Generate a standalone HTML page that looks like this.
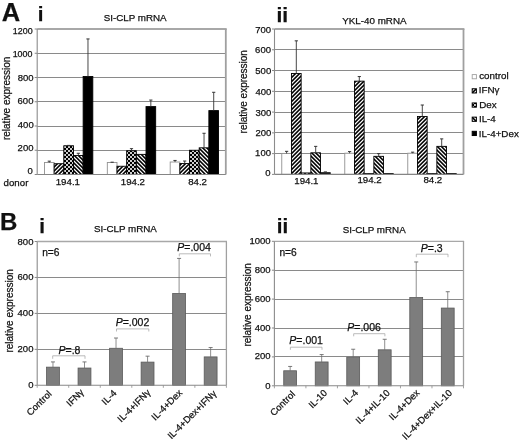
<!DOCTYPE html>
<html><head><meta charset="utf-8"><style>
html,body{margin:0;padding:0;background:#fff;}
svg{display:block;filter:grayscale(1) blur(0.3px);}
text{font-family:"Liberation Sans", sans-serif;fill:#111;stroke:#111;stroke-width:0.25px;}
</style></head><body>
<svg width="520" height="442" viewBox="0 0 520 442">
<defs>
<pattern id="pfwd" patternUnits="userSpaceOnUse" x="0" y="0" width="4" height="4"><rect width="4" height="4" fill="#fff"/><path d="M0 0H2.2L0 2.2Z M4 0V2.2L2.2 4H0Z" fill="#000"/></pattern>
<pattern id="pbck" patternUnits="userSpaceOnUse" x="0" y="0" width="4" height="4"><rect width="4" height="4" fill="#fff"/><path d="M4 0H1.8L4 2.2Z M0 0V2.2L1.8 4H4Z" fill="#000"/></pattern>
<pattern id="pchk" patternUnits="userSpaceOnUse" x="0" y="0" width="4" height="4"><rect width="4" height="4" fill="#000"/><rect x="2.1" y="0.1" width="1.8" height="1.8" fill="#fff"/><rect x="0.1" y="2.1" width="1.8" height="1.8" fill="#fff"/></pattern>
</defs>
<rect width="520" height="442" fill="#fff"/>
<line x1="37.2" y1="150.5" x2="225.8" y2="150.5" stroke="#8a8a8a" stroke-width="1.2"/>
<line x1="37.2" y1="126.5" x2="225.8" y2="126.5" stroke="#8a8a8a" stroke-width="1.2"/>
<line x1="37.2" y1="101.5" x2="225.8" y2="101.5" stroke="#8a8a8a" stroke-width="1.2"/>
<line x1="37.2" y1="77.5" x2="225.8" y2="77.5" stroke="#8a8a8a" stroke-width="1.2"/>
<line x1="37.2" y1="53.5" x2="225.8" y2="53.5" stroke="#8a8a8a" stroke-width="1.2"/>
<line x1="37.2" y1="29" x2="226.7" y2="29" stroke="#a8a8a8" stroke-width="1.8"/>
<line x1="225.8" y1="29" x2="225.8" y2="174.5" stroke="#a0a0a0" stroke-width="1.8"/>
<line x1="34.7" y1="174.5" x2="37.2" y2="174.5" stroke="#888" stroke-width="1"/>
<line x1="34.7" y1="150.25" x2="37.2" y2="150.25" stroke="#888" stroke-width="1"/>
<line x1="34.7" y1="126" x2="37.2" y2="126" stroke="#888" stroke-width="1"/>
<line x1="34.7" y1="101.75" x2="37.2" y2="101.75" stroke="#888" stroke-width="1"/>
<line x1="34.7" y1="77.5" x2="37.2" y2="77.5" stroke="#888" stroke-width="1"/>
<line x1="34.7" y1="53.25" x2="37.2" y2="53.25" stroke="#888" stroke-width="1"/>
<line x1="34.7" y1="29" x2="37.2" y2="29" stroke="#888" stroke-width="1"/>
<rect x="44.45" y="162.5" width="9.67" height="12" fill="#fff" stroke="#909090" stroke-width="0.9"/>
<line x1="49.29" y1="162.5" x2="49.29" y2="161.16" stroke="#333" stroke-width="0.9"/>
<line x1="47.69" y1="161.16" x2="50.89" y2="161.16" stroke="#333" stroke-width="1"/>
<rect x="54.13" y="163.71" width="9.67" height="10.79" fill="url(#pfwd)" stroke="#000" stroke-width="0.9"/>
<rect x="63.8" y="145.76" width="9.67" height="28.74" fill="url(#pchk)" stroke="#000" stroke-width="0.9"/>
<line x1="68.63" y1="145.76" x2="68.63" y2="145.4" stroke="#333" stroke-width="0.9"/>
<line x1="67.03" y1="145.4" x2="70.23" y2="145.4" stroke="#333" stroke-width="1"/>
<rect x="73.47" y="155.46" width="9.67" height="19.04" fill="url(#pbck)" stroke="#000" stroke-width="0.9"/>
<line x1="78.31" y1="155.46" x2="78.31" y2="153.28" stroke="#333" stroke-width="0.9"/>
<line x1="76.71" y1="153.28" x2="79.91" y2="153.28" stroke="#333" stroke-width="1"/>
<rect x="83.14" y="76.53" width="9.67" height="97.97" fill="#000" stroke="#000" stroke-width="0.9"/>
<line x1="87.98" y1="76.53" x2="87.98" y2="38.94" stroke="#333" stroke-width="0.9"/>
<line x1="86.38" y1="38.94" x2="89.58" y2="38.94" stroke="#333" stroke-width="1"/>
<rect x="107.32" y="162.5" width="9.67" height="12" fill="#fff" stroke="#909090" stroke-width="0.9"/>
<line x1="112.16" y1="162.5" x2="112.16" y2="162.19" stroke="#333" stroke-width="0.9"/>
<line x1="110.56" y1="162.19" x2="113.76" y2="162.19" stroke="#333" stroke-width="1"/>
<rect x="116.99" y="166.25" width="9.67" height="8.25" fill="url(#pfwd)" stroke="#000" stroke-width="0.9"/>
<rect x="126.66" y="150.74" width="9.67" height="23.76" fill="url(#pchk)" stroke="#000" stroke-width="0.9"/>
<line x1="131.5" y1="150.74" x2="131.5" y2="148.67" stroke="#333" stroke-width="0.9"/>
<line x1="129.9" y1="148.67" x2="133.1" y2="148.67" stroke="#333" stroke-width="1"/>
<rect x="136.34" y="154.37" width="9.67" height="20.13" fill="url(#pbck)" stroke="#000" stroke-width="0.9"/>
<rect x="146.01" y="106.6" width="9.67" height="67.9" fill="#000" stroke="#000" stroke-width="0.9"/>
<line x1="150.84" y1="106.6" x2="150.84" y2="100.05" stroke="#333" stroke-width="0.9"/>
<line x1="149.24" y1="100.05" x2="152.44" y2="100.05" stroke="#333" stroke-width="1"/>
<rect x="170.19" y="162.01" width="9.67" height="12.49" fill="#fff" stroke="#909090" stroke-width="0.9"/>
<line x1="175.02" y1="162.01" x2="175.02" y2="160.44" stroke="#333" stroke-width="0.9"/>
<line x1="173.42" y1="160.44" x2="176.62" y2="160.44" stroke="#333" stroke-width="1"/>
<rect x="179.86" y="163.47" width="9.67" height="11.03" fill="url(#pfwd)" stroke="#000" stroke-width="0.9"/>
<line x1="184.69" y1="163.47" x2="184.69" y2="161.04" stroke="#333" stroke-width="0.9"/>
<line x1="183.09" y1="161.04" x2="186.29" y2="161.04" stroke="#333" stroke-width="1"/>
<rect x="189.53" y="150.25" width="9.67" height="24.25" fill="url(#pchk)" stroke="#000" stroke-width="0.9"/>
<rect x="199.2" y="147.82" width="9.67" height="26.68" fill="url(#pbck)" stroke="#000" stroke-width="0.9"/>
<line x1="204.04" y1="147.82" x2="204.04" y2="133.28" stroke="#333" stroke-width="0.9"/>
<line x1="202.44" y1="133.28" x2="205.64" y2="133.28" stroke="#333" stroke-width="1"/>
<rect x="208.87" y="110.6" width="9.67" height="63.9" fill="#000" stroke="#000" stroke-width="0.9"/>
<line x1="213.71" y1="110.6" x2="213.71" y2="92.29" stroke="#333" stroke-width="0.9"/>
<line x1="212.11" y1="92.29" x2="215.31" y2="92.29" stroke="#333" stroke-width="1"/>
<line x1="37.2" y1="29" x2="37.2" y2="174.5" stroke="#8c8c8c" stroke-width="1.1"/>
<line x1="37.2" y1="174.5" x2="225.8" y2="174.5" stroke="#858585" stroke-width="1.1"/>
<line x1="274.5" y1="153.5" x2="463.5" y2="153.5" stroke="#8a8a8a" stroke-width="1.2"/>
<line x1="274.5" y1="132.5" x2="463.5" y2="132.5" stroke="#8a8a8a" stroke-width="1.2"/>
<line x1="274.5" y1="112.5" x2="463.5" y2="112.5" stroke="#8a8a8a" stroke-width="1.2"/>
<line x1="274.5" y1="91.5" x2="463.5" y2="91.5" stroke="#8a8a8a" stroke-width="1.2"/>
<line x1="274.5" y1="70.5" x2="463.5" y2="70.5" stroke="#8a8a8a" stroke-width="1.2"/>
<line x1="274.5" y1="49.5" x2="463.5" y2="49.5" stroke="#8a8a8a" stroke-width="1.2"/>
<line x1="274.5" y1="29" x2="464.4" y2="29" stroke="#a8a8a8" stroke-width="1.8"/>
<line x1="463.5" y1="29" x2="463.5" y2="174.4" stroke="#a0a0a0" stroke-width="1.8"/>
<line x1="272" y1="174.4" x2="274.5" y2="174.4" stroke="#888" stroke-width="1"/>
<line x1="272" y1="153.63" x2="274.5" y2="153.63" stroke="#888" stroke-width="1"/>
<line x1="272" y1="132.86" x2="274.5" y2="132.86" stroke="#888" stroke-width="1"/>
<line x1="272" y1="112.09" x2="274.5" y2="112.09" stroke="#888" stroke-width="1"/>
<line x1="272" y1="91.31" x2="274.5" y2="91.31" stroke="#888" stroke-width="1"/>
<line x1="272" y1="70.54" x2="274.5" y2="70.54" stroke="#888" stroke-width="1"/>
<line x1="272" y1="49.77" x2="274.5" y2="49.77" stroke="#888" stroke-width="1"/>
<line x1="272" y1="29" x2="274.5" y2="29" stroke="#888" stroke-width="1"/>
<rect x="281.77" y="153.42" width="9.69" height="20.98" fill="#fff" stroke="#909090" stroke-width="0.9"/>
<line x1="286.62" y1="153.42" x2="286.62" y2="151.34" stroke="#333" stroke-width="0.9"/>
<line x1="285.02" y1="151.34" x2="288.22" y2="151.34" stroke="#333" stroke-width="1"/>
<rect x="291.46" y="73.45" width="9.69" height="100.95" fill="url(#pfwd)" stroke="#000" stroke-width="0.9"/>
<line x1="296.31" y1="73.45" x2="296.31" y2="40.84" stroke="#333" stroke-width="0.9"/>
<line x1="294.71" y1="40.84" x2="297.91" y2="40.84" stroke="#333" stroke-width="1"/>
<rect x="301.15" y="172.95" width="9.69" height="1.45" fill="url(#pchk)" stroke="#000" stroke-width="0.9"/>
<rect x="310.85" y="152.8" width="9.69" height="21.6" fill="url(#pbck)" stroke="#000" stroke-width="0.9"/>
<line x1="315.69" y1="152.8" x2="315.69" y2="146.36" stroke="#333" stroke-width="0.9"/>
<line x1="314.09" y1="146.36" x2="317.29" y2="146.36" stroke="#333" stroke-width="1"/>
<rect x="320.54" y="172.74" width="9.69" height="1.66" fill="#000" stroke="#000" stroke-width="0.9"/>
<line x1="325.38" y1="172.74" x2="325.38" y2="171.91" stroke="#333" stroke-width="0.9"/>
<line x1="323.78" y1="171.91" x2="326.98" y2="171.91" stroke="#333" stroke-width="1"/>
<rect x="344.77" y="153.21" width="9.69" height="21.19" fill="#fff" stroke="#909090" stroke-width="0.9"/>
<line x1="349.62" y1="153.21" x2="349.62" y2="151.55" stroke="#333" stroke-width="0.9"/>
<line x1="348.02" y1="151.55" x2="351.22" y2="151.55" stroke="#333" stroke-width="1"/>
<rect x="354.46" y="81.14" width="9.69" height="93.26" fill="url(#pfwd)" stroke="#000" stroke-width="0.9"/>
<line x1="359.31" y1="81.14" x2="359.31" y2="76.57" stroke="#333" stroke-width="0.9"/>
<line x1="357.71" y1="76.57" x2="360.91" y2="76.57" stroke="#333" stroke-width="1"/>
<rect x="364.15" y="173.57" width="9.69" height="0.83" fill="url(#pchk)" stroke="#000" stroke-width="0.9"/>
<rect x="373.85" y="156.33" width="9.69" height="18.07" fill="url(#pbck)" stroke="#000" stroke-width="0.9"/>
<line x1="378.69" y1="156.33" x2="378.69" y2="153.63" stroke="#333" stroke-width="0.9"/>
<line x1="377.09" y1="153.63" x2="380.29" y2="153.63" stroke="#333" stroke-width="1"/>
<rect x="383.54" y="173.57" width="9.69" height="0.83" fill="#000" stroke="#000" stroke-width="0.9"/>
<rect x="407.77" y="153.21" width="9.69" height="21.19" fill="#fff" stroke="#909090" stroke-width="0.9"/>
<line x1="412.62" y1="153.21" x2="412.62" y2="152.17" stroke="#333" stroke-width="0.9"/>
<line x1="411.02" y1="152.17" x2="414.22" y2="152.17" stroke="#333" stroke-width="1"/>
<rect x="417.46" y="116.45" width="9.69" height="57.95" fill="url(#pfwd)" stroke="#000" stroke-width="0.9"/>
<line x1="422.31" y1="116.45" x2="422.31" y2="105.02" stroke="#333" stroke-width="0.9"/>
<line x1="420.71" y1="105.02" x2="423.91" y2="105.02" stroke="#333" stroke-width="1"/>
<rect x="427.15" y="173.57" width="9.69" height="0.83" fill="url(#pchk)" stroke="#000" stroke-width="0.9"/>
<rect x="436.85" y="146.36" width="9.69" height="28.04" fill="url(#pbck)" stroke="#000" stroke-width="0.9"/>
<line x1="441.69" y1="146.36" x2="441.69" y2="138.88" stroke="#333" stroke-width="0.9"/>
<line x1="440.09" y1="138.88" x2="443.29" y2="138.88" stroke="#333" stroke-width="1"/>
<rect x="446.54" y="173.57" width="9.69" height="0.83" fill="#000" stroke="#000" stroke-width="0.9"/>
<line x1="274.5" y1="29" x2="274.5" y2="174.4" stroke="#8c8c8c" stroke-width="1.1"/>
<line x1="274.5" y1="174.4" x2="463.5" y2="174.4" stroke="#858585" stroke-width="1.1"/>
<line x1="37.2" y1="349.5" x2="226.4" y2="349.5" stroke="#8a8a8a" stroke-width="1.2"/>
<line x1="37.2" y1="313.5" x2="226.4" y2="313.5" stroke="#8a8a8a" stroke-width="1.2"/>
<line x1="37.2" y1="277.5" x2="226.4" y2="277.5" stroke="#8a8a8a" stroke-width="1.2"/>
<line x1="37.2" y1="241.5" x2="227" y2="241.5" stroke="#a8a8a8" stroke-width="1.3"/>
<line x1="226.4" y1="241.5" x2="226.4" y2="385.3" stroke="#a0a0a0" stroke-width="1.3"/>
<line x1="34.7" y1="385.3" x2="37.2" y2="385.3" stroke="#888" stroke-width="1"/>
<line x1="34.7" y1="349.35" x2="37.2" y2="349.35" stroke="#888" stroke-width="1"/>
<line x1="34.7" y1="313.4" x2="37.2" y2="313.4" stroke="#888" stroke-width="1"/>
<line x1="34.7" y1="277.45" x2="37.2" y2="277.45" stroke="#888" stroke-width="1"/>
<line x1="34.7" y1="241.5" x2="37.2" y2="241.5" stroke="#888" stroke-width="1"/>
<rect x="46.53" y="367.15" width="12.87" height="18.15" fill="#7d7d7d" stroke="#5a5a5a" stroke-width="0.8"/>
<line x1="52.97" y1="367.15" x2="52.97" y2="361.93" stroke="#6a6a6a" stroke-width="0.75"/>
<line x1="50.97" y1="361.93" x2="54.97" y2="361.93" stroke="#6a6a6a" stroke-width="0.9"/>
<rect x="78.06" y="368.04" width="12.87" height="17.26" fill="#7d7d7d" stroke="#5a5a5a" stroke-width="0.8"/>
<line x1="84.5" y1="368.04" x2="84.5" y2="361.93" stroke="#6a6a6a" stroke-width="0.75"/>
<line x1="82.5" y1="361.93" x2="86.5" y2="361.93" stroke="#6a6a6a" stroke-width="0.9"/>
<rect x="109.6" y="348.27" width="12.87" height="37.03" fill="#7d7d7d" stroke="#5a5a5a" stroke-width="0.8"/>
<line x1="116.03" y1="348.27" x2="116.03" y2="338.03" stroke="#6a6a6a" stroke-width="0.75"/>
<line x1="114.03" y1="338.03" x2="118.03" y2="338.03" stroke="#6a6a6a" stroke-width="0.9"/>
<rect x="141.13" y="362.11" width="12.87" height="23.19" fill="#7d7d7d" stroke="#5a5a5a" stroke-width="0.8"/>
<line x1="147.57" y1="362.11" x2="147.57" y2="356.18" stroke="#6a6a6a" stroke-width="0.75"/>
<line x1="145.57" y1="356.18" x2="149.57" y2="356.18" stroke="#6a6a6a" stroke-width="0.9"/>
<rect x="172.66" y="293.45" width="12.87" height="91.85" fill="#7d7d7d" stroke="#5a5a5a" stroke-width="0.8"/>
<line x1="179.1" y1="293.45" x2="179.1" y2="258.4" stroke="#6a6a6a" stroke-width="0.75"/>
<line x1="177.1" y1="258.4" x2="181.1" y2="258.4" stroke="#6a6a6a" stroke-width="0.9"/>
<rect x="204.2" y="356.9" width="12.87" height="28.4" fill="#7d7d7d" stroke="#5a5a5a" stroke-width="0.8"/>
<line x1="210.63" y1="356.9" x2="210.63" y2="347.55" stroke="#6a6a6a" stroke-width="0.75"/>
<line x1="208.63" y1="347.55" x2="212.63" y2="347.55" stroke="#6a6a6a" stroke-width="0.9"/>
<line x1="37.2" y1="385.3" x2="37.2" y2="387.8" stroke="#999" stroke-width="0.9"/>
<line x1="68.73" y1="385.3" x2="68.73" y2="387.8" stroke="#999" stroke-width="0.9"/>
<line x1="100.27" y1="385.3" x2="100.27" y2="387.8" stroke="#999" stroke-width="0.9"/>
<line x1="131.8" y1="385.3" x2="131.8" y2="387.8" stroke="#999" stroke-width="0.9"/>
<line x1="163.33" y1="385.3" x2="163.33" y2="387.8" stroke="#999" stroke-width="0.9"/>
<line x1="194.87" y1="385.3" x2="194.87" y2="387.8" stroke="#999" stroke-width="0.9"/>
<line x1="226.4" y1="385.3" x2="226.4" y2="387.8" stroke="#999" stroke-width="0.9"/>
<line x1="37.2" y1="241.5" x2="37.2" y2="385.3" stroke="#8c8c8c" stroke-width="1.1"/>
<line x1="37.2" y1="385.3" x2="226.4" y2="385.3" stroke="#888" stroke-width="1.1"/>
<path d="M52.7 358.8V355.8H85V358.8" fill="none" stroke="#aaa" stroke-width="0.8"/>
<path d="M116.5 331.5V328.9H148.8V331.5" fill="none" stroke="#aaa" stroke-width="0.8"/>
<path d="M179.3 256.4V253.8H210.5V256.4" fill="none" stroke="#aaa" stroke-width="0.8"/>
<line x1="274.4" y1="356.5" x2="463.5" y2="356.5" stroke="#8a8a8a" stroke-width="1.2"/>
<line x1="274.4" y1="328.5" x2="463.5" y2="328.5" stroke="#8a8a8a" stroke-width="1.2"/>
<line x1="274.4" y1="299.5" x2="463.5" y2="299.5" stroke="#8a8a8a" stroke-width="1.2"/>
<line x1="274.4" y1="270.5" x2="463.5" y2="270.5" stroke="#8a8a8a" stroke-width="1.2"/>
<line x1="274.4" y1="241.3" x2="464.1" y2="241.3" stroke="#a8a8a8" stroke-width="1.3"/>
<line x1="463.5" y1="241.3" x2="463.5" y2="385.8" stroke="#a0a0a0" stroke-width="1.3"/>
<line x1="271.9" y1="385.8" x2="274.4" y2="385.8" stroke="#888" stroke-width="1"/>
<line x1="271.9" y1="356.9" x2="274.4" y2="356.9" stroke="#888" stroke-width="1"/>
<line x1="271.9" y1="328" x2="274.4" y2="328" stroke="#888" stroke-width="1"/>
<line x1="271.9" y1="299.1" x2="274.4" y2="299.1" stroke="#888" stroke-width="1"/>
<line x1="271.9" y1="270.2" x2="274.4" y2="270.2" stroke="#888" stroke-width="1"/>
<line x1="271.9" y1="241.3" x2="274.4" y2="241.3" stroke="#888" stroke-width="1"/>
<rect x="283.73" y="370.77" width="12.86" height="15.03" fill="#7d7d7d" stroke="#5a5a5a" stroke-width="0.8"/>
<line x1="290.16" y1="370.77" x2="290.16" y2="366.44" stroke="#6a6a6a" stroke-width="0.75"/>
<line x1="288.16" y1="366.44" x2="292.16" y2="366.44" stroke="#6a6a6a" stroke-width="0.9"/>
<rect x="315.24" y="361.96" width="12.86" height="23.84" fill="#7d7d7d" stroke="#5a5a5a" stroke-width="0.8"/>
<line x1="321.67" y1="361.96" x2="321.67" y2="354.59" stroke="#6a6a6a" stroke-width="0.75"/>
<line x1="319.67" y1="354.59" x2="323.67" y2="354.59" stroke="#6a6a6a" stroke-width="0.9"/>
<rect x="346.76" y="357.19" width="12.86" height="28.61" fill="#7d7d7d" stroke="#5a5a5a" stroke-width="0.8"/>
<line x1="353.19" y1="357.19" x2="353.19" y2="349.24" stroke="#6a6a6a" stroke-width="0.75"/>
<line x1="351.19" y1="349.24" x2="355.19" y2="349.24" stroke="#6a6a6a" stroke-width="0.9"/>
<rect x="378.28" y="349.82" width="12.86" height="35.98" fill="#7d7d7d" stroke="#5a5a5a" stroke-width="0.8"/>
<line x1="384.71" y1="349.82" x2="384.71" y2="339.27" stroke="#6a6a6a" stroke-width="0.75"/>
<line x1="382.71" y1="339.27" x2="386.71" y2="339.27" stroke="#6a6a6a" stroke-width="0.9"/>
<rect x="409.79" y="297.51" width="12.86" height="88.29" fill="#7d7d7d" stroke="#5a5a5a" stroke-width="0.8"/>
<line x1="416.23" y1="297.51" x2="416.23" y2="261.96" stroke="#6a6a6a" stroke-width="0.75"/>
<line x1="414.23" y1="261.96" x2="418.23" y2="261.96" stroke="#6a6a6a" stroke-width="0.9"/>
<rect x="441.31" y="308.06" width="12.86" height="77.74" fill="#7d7d7d" stroke="#5a5a5a" stroke-width="0.8"/>
<line x1="447.74" y1="308.06" x2="447.74" y2="291.73" stroke="#6a6a6a" stroke-width="0.75"/>
<line x1="445.74" y1="291.73" x2="449.74" y2="291.73" stroke="#6a6a6a" stroke-width="0.9"/>
<line x1="274.4" y1="385.8" x2="274.4" y2="388.3" stroke="#999" stroke-width="0.9"/>
<line x1="305.92" y1="385.8" x2="305.92" y2="388.3" stroke="#999" stroke-width="0.9"/>
<line x1="337.43" y1="385.8" x2="337.43" y2="388.3" stroke="#999" stroke-width="0.9"/>
<line x1="368.95" y1="385.8" x2="368.95" y2="388.3" stroke="#999" stroke-width="0.9"/>
<line x1="400.47" y1="385.8" x2="400.47" y2="388.3" stroke="#999" stroke-width="0.9"/>
<line x1="431.98" y1="385.8" x2="431.98" y2="388.3" stroke="#999" stroke-width="0.9"/>
<line x1="463.5" y1="385.8" x2="463.5" y2="388.3" stroke="#999" stroke-width="0.9"/>
<line x1="274.4" y1="241.3" x2="274.4" y2="385.8" stroke="#8c8c8c" stroke-width="1.1"/>
<line x1="274.4" y1="385.8" x2="463.5" y2="385.8" stroke="#888" stroke-width="1.1"/>
<path d="M290.4 349.8V347.2H322V349.8" fill="none" stroke="#aaa" stroke-width="0.8"/>
<path d="M353.7 336.3V333.7H384.9V336.3" fill="none" stroke="#aaa" stroke-width="0.8"/>
<path d="M416.3 257.2V254.2H448V257.2" fill="none" stroke="#aaa" stroke-width="0.8"/>
<rect x="472.2" y="74.6" width="4.2" height="4.2" fill="#fff" stroke="#a0a0a0" stroke-width="0.9"/>
<rect x="472.2" y="88.78" width="4.2" height="4.2" fill="url(#pfwd)" stroke="#000" stroke-width="1"/>
<rect x="472.2" y="102.96" width="4.2" height="4.2" fill="url(#pchk)" stroke="#000" stroke-width="1"/>
<rect x="472.2" y="117.14" width="4.2" height="4.2" fill="url(#pbck)" stroke="#000" stroke-width="1"/>
<rect x="472.2" y="131.32" width="4.2" height="4.2" fill="#000" stroke="#000" stroke-width="1"/>
<text id="A" x="1.64" y="21.39" font-size="25.5" font-weight="bold">A</text>
<text id="Ai" x="37.72" y="21.43" font-size="20.5" font-weight="bold">i</text>
<text id="Aii" x="276.54" y="21.56" font-size="21" font-weight="bold">ii</text>
<text id="B" x="0.01" y="229.63" font-size="24" font-weight="bold">B</text>
<text id="Bi" x="39.23" y="232.95" font-size="20.5" font-weight="bold">i</text>
<text id="Bii" x="276.7" y="232.99" font-size="20.5" font-weight="bold">ii</text>
<text id="Ai_title" x="103.65" y="21.43" font-size="9.8">SI-CLP mRNA</text>
<text id="Aii_title" x="342.3" y="23.61" font-size="9.8">YKL-40 mRNA</text>
<text id="Bi_title" x="93.93" y="232.38" font-size="9.8">SI-CLP mRNA</text>
<text id="Bii_title" x="342.71" y="232.55" font-size="9.8">SI-CLP mRNA</text>
<text id="Ai_ylab" transform="translate(9.53,98.39) rotate(-90)" font-size="10" text-anchor="middle">relative expression</text>
<text id="Aii_ylab" transform="translate(247.17,91.75) rotate(-90)" font-size="10" text-anchor="middle">relative expression</text>
<text id="Bi_ylab" transform="translate(13.1,310.87) rotate(-90)" font-size="10" text-anchor="middle">relative expression</text>
<text id="Bii_ylab" transform="translate(251,304.87) rotate(-90)" font-size="10" text-anchor="middle">relative expression</text>
<text id="Ai_y1200" x="32.61" y="34.44" font-size="8.9" text-anchor="end">1200</text>
<text id="Ai_y1000" x="32.42" y="57.24" font-size="8.9" text-anchor="end">1000</text>
<text id="Ai_y800" x="33.66" y="81.45" font-size="9.5" text-anchor="end">800</text>
<text id="Ai_y600" x="33.44" y="104.29" font-size="9.5" text-anchor="end">600</text>
<text id="Ai_y400" x="33.68" y="127.88" font-size="9.5" text-anchor="end">400</text>
<text id="Ai_y200" x="33.47" y="150.68" font-size="9.5" text-anchor="end">200</text>
<text id="Ai_y0" x="32.88" y="174.29" font-size="9.5" text-anchor="end">0</text>
<text id="Aii_y700" x="271.14" y="32.86" font-size="9.5" text-anchor="end">700</text>
<text id="Aii_y600" x="270.96" y="52.78" font-size="9.5" text-anchor="end">600</text>
<text id="Aii_y500" x="271.19" y="74.2" font-size="9.5" text-anchor="end">500</text>
<text id="Aii_y400" x="271.24" y="94.8" font-size="9.5" text-anchor="end">400</text>
<text id="Aii_y300" x="271.24" y="115.57" font-size="9.5" text-anchor="end">300</text>
<text id="Aii_y200" x="271.24" y="135.69" font-size="9.5" text-anchor="end">200</text>
<text id="Aii_y100" x="270.96" y="156.01" font-size="9.5" text-anchor="end">100</text>
<text id="Aii_y0" x="270.51" y="176.27" font-size="9.5" text-anchor="end">0</text>
<text id="Bi_y800" x="33.44" y="244.6" font-size="9.5" text-anchor="end">800</text>
<text id="Bi_y600" x="33.44" y="280.33" font-size="9.5" text-anchor="end">600</text>
<text id="Bi_y400" x="33.44" y="315.84" font-size="9.5" text-anchor="end">400</text>
<text id="Bi_y200" x="33.44" y="351.82" font-size="9.5" text-anchor="end">200</text>
<text id="Bi_y0" x="33.44" y="387.7" font-size="9.5" text-anchor="end">0</text>
<text id="Bii_y1000" x="270.55" y="244.08" font-size="9.5" text-anchor="end">1000</text>
<text id="Bii_y800" x="270.55" y="272.94" font-size="9.5" text-anchor="end">800</text>
<text id="Bii_y600" x="270.55" y="302.32" font-size="9.5" text-anchor="end">600</text>
<text id="Bii_y400" x="270.55" y="330.89" font-size="9.5" text-anchor="end">400</text>
<text id="Bii_y200" x="270.55" y="359.36" font-size="9.5" text-anchor="end">200</text>
<text id="Bii_y0" x="270.55" y="388.97" font-size="9.5" text-anchor="end">0</text>
<text id="donor" x="3.58" y="185.82" font-size="9.7">donor</text>
<text id="Ai_x1" x="67.87" y="184.64" font-size="9.7" text-anchor="middle">194.1</text>
<text id="Ai_x2" x="132.89" y="185.09" font-size="9.7" text-anchor="middle">194.2</text>
<text id="Ai_x3" x="197.57" y="184.89" font-size="9.7" text-anchor="middle">84.2</text>
<text id="Aii_x1" x="306.4" y="183.66" font-size="9.7" text-anchor="middle">194.1</text>
<text id="Aii_x2" x="369.56" y="182.95" font-size="9.7" text-anchor="middle">194.2</text>
<text id="Aii_x3" x="432.84" y="182.59" font-size="9.7" text-anchor="middle">84.2</text>
<text id="leg0" x="479.19" y="79.48" font-size="9.8">control</text>
<text id="leg1" x="478.73" y="93.23" font-size="9.8">IFNγ</text>
<text id="leg2" x="479.25" y="107.77" font-size="9.8">Dex</text>
<text id="leg3" x="478.94" y="121.99" font-size="9.8">IL-4</text>
<text id="leg4" x="478.76" y="136.76" font-size="9.8">IL-4+Dex</text>
<text id="Bi_n6" x="42.2" y="256.24" font-size="10.2">n=6</text>
<text id="Bii_n6" x="279.39" y="256.44" font-size="10.2">n=6</text>
<text id="Bi_p1" x="58.55" y="353.71" font-size="10.5"><tspan font-style="italic">P</tspan>=.8</text>
<text id="Bi_p2" x="115.65" y="326.16" font-size="10.5"><tspan font-style="italic">P</tspan>=.002</text>
<text id="Bi_p3" x="177.3" y="251.32" font-size="10.5"><tspan font-style="italic">P</tspan>=.004</text>
<text id="Bii_p1" x="289.32" y="343.54" font-size="10.5"><tspan font-style="italic">P</tspan>=.001</text>
<text id="Bii_p2" x="347.24" y="331.28" font-size="10.5"><tspan font-style="italic">P</tspan>=.006</text>
<text id="Bii_p3" x="420.81" y="251.7" font-size="10.5"><tspan font-style="italic">P</tspan>=.3</text>
<text id="Bi_l1" transform="translate(52.12,394.56) rotate(-45)" font-size="9.5" text-anchor="end">Control</text>
<text id="Bi_l2" transform="translate(84.45,392.79) rotate(-45)" font-size="9.5" text-anchor="end">IFNγ</text>
<text id="Bi_l3" transform="translate(117.13,393.85) rotate(-45)" font-size="9.5" text-anchor="end">IL-4</text>
<text id="Bi_l4" transform="translate(151,393.05) rotate(-45)" font-size="9.5" text-anchor="end">IL-4+IFNγ</text>
<text id="Bi_l5" transform="translate(182.76,393.5) rotate(-45)" font-size="9.5" text-anchor="end">IL-4+Dex</text>
<text id="Bi_l6" transform="translate(217.05,394.03) rotate(-45)" font-size="9.5" text-anchor="end">IL-4+Dex+IFNγ</text>
<text id="Bii_l1" transform="translate(295.63,394.85) rotate(-45)" font-size="9.5" text-anchor="end">Control</text>
<text id="Bii_l2" transform="translate(327.69,393.43) rotate(-45)" font-size="9.5" text-anchor="end">IL-10</text>
<text id="Bii_l3" transform="translate(358.66,393.58) rotate(-45)" font-size="9.5" text-anchor="end">IL-4</text>
<text id="Bii_l4" transform="translate(390.41,393.62) rotate(-45)" font-size="9.5" text-anchor="end">IL-4+IL-10</text>
<text id="Bii_l5" transform="translate(420.22,393.42) rotate(-45)" font-size="9.5" text-anchor="end">IL-4+Dex</text>
<text id="Bii_l6" transform="translate(452.74,393.45) rotate(-45)" font-size="9.5" text-anchor="end">IL-4+Dex+IL-10</text>
</svg>
</body></html>
